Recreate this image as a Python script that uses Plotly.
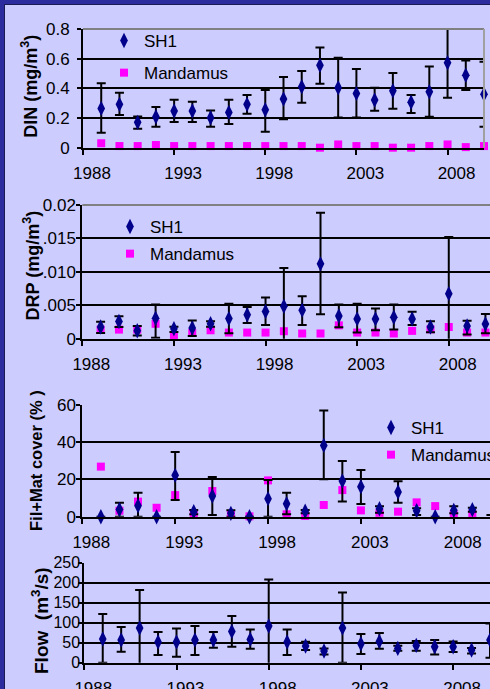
import plotly.graph_objects as go

years = list(range(1989, 2011))
tick_years = [1988, 1993, 1998, 2003, 2008]

din_sh1 = [0.265, 0.292, 0.171, 0.209, 0.247, 0.247, 0.202, 0.238, 0.292, 0.256, 0.328,
           0.411, 0.555, 0.404, 0.366, 0.321, 0.384, 0.306, 0.377, 0.573, 0.488, 0.36]
din_sh1_hi = [0.434, 0.37, 0.21, 0.274, 0.324, 0.31, 0.25, 0.324, 0.355, 0.389, 0.476,
              0.517, 0.676, 0.607, 0.53, 0.404, 0.503, 0.355, 0.548, 0.8, 0.587, 0.58]
din_sh1_lo = [0.10, 0.22, 0.128, 0.142, 0.173, 0.173, 0.142, 0.16, 0.229, 0.108, 0.191,
              0.303, 0.431, 0.204, 0.204, 0.249, 0.263, 0.234, 0.209, 0.337, 0.389, 0.142]
din_man = [0.03, 0.011, 0.011, 0.018, 0.011, 0.011, 0.011, 0.011, 0.011, 0.011, 0.011,
           0.011, 0.0, 0.022, 0.011, 0.011, 0.0, 0.0, 0.011, 0.022, 0.004, 0.011]

drp_sh1 = [0.00175, 0.00257, 0.0012, 0.00306, 0.0015, 0.0016, 0.00223, 0.00301, 0.00359, 0.00408, 0.00485,
           0.00427, 0.0112, 0.0034, 0.00296, 0.00296, 0.0032, 0.00296, 0.00175, 0.00674, 0.0019, 0.0022]
drp_sh1_hi = [0.00252, 0.00335, 0.0019, 0.0051, 0.0018, 0.00272, 0.0026, 0.00524, 0.00476, 0.00617, 0.01057,
              0.00636, 0.01885, 0.0051, 0.00524, 0.0045, 0.0051, 0.00403, 0.0026, 0.01522, 0.0027, 0.0037]
drp_sh1_lo = [0.00087, 0.00175, 0.00049, 0.00015, 0.0010, 0.0004, 0.0018, 0.0008, 0.00233, 0.00204, -0.0006,
              0.00204, 0.00364, 0.0017, 0.00092, 0.00126, 0.00136, 0.00204, 0.00097, -0.0019, 0.00063, 0.0008]
drp_man = [0.00136, 0.00136, 0.00136, 0.00223, 0.00039, 0.00087, 0.00126, 0.00092, 0.00092, 0.00092, 0.00112,
           0.00078, 0.00078, 0.002, 0.00092, 0.00092, 0.00078, 0.00117, 0.0014, 0.00175, 0.00092, 0.00092]
drp_ticks = [0, 0.005, 0.010, 0.015, 0.02]
drp_ticktext = ["0", ".005", ".010", ".015", "0.02"]

fil_sh1 = [0, 3.9, 5.9, 0, 22.2, 2.7, 11.1, 1.8, 0, 9.7, 7.0,
           2.9, 38.3, 19.2, 16.1, 4.3, 13.3, 3.2, 0, 3.4, 3.8, 0.9]
fil_sh1_hi = [0, 7.5, 12.9, 0, 34.7, 3.6, 21.3, 3.4, 0, 19.7, 12.9,
              3.6, 57.0, 29.9, 25.1, 5.6, 19.0, 4.5, 0, 5.6, 4.8, 0.9]
fil_sh1_lo = [0, 0, 0, 0, 9.0, 1.3, 0.9, 0, 0, 0, 1.3,
              1.8, 20.1, 8.1, 6.8, 2.1, 7.5, 0.9, 0, 1.8, 2.7, 0.9]
fil_man = [26.9, 3.2, 8.1, 4.8, 11.6, 1.3, 13.8, 1.3, 0.2, 19.5, 1.3,
           0.4, 6.3, 14.3, 3.4, 2.1, 2.7, 7.7, 5.7, 1.3, 1.3, 4.5]

flow_sh1 = [59.2, 56.7, 86.7, 51.7, 51.7, 56.7, 56.7, 78.3, 58.3, 91.7, 51.7,
            41.7, 29.2, 86.7, 47.5, 53.3, 35.8, 43.3, 40, 40, 31.7, 56.7]
flow_sh1_hi = [121.7, 89.2, 181.7, 76.7, 85.8, 91.7, 76.7, 116.7, 83.3, 208.3, 83.3,
               52.5, 35.8, 175.8, 71.7, 74.2, 42.5, 54.2, 56.7, 53.3, 36.7, 98.3]
flow_sh1_lo = [0, 27.5, -7.5, 19.2, 15, 19.2, 37.5, 40, 35, -23.3, 19.2,
               31.7, 20.8, 0, 21.7, 35, 30, 30, 20.8, 26.7, 23.3, 12.5]

y_titles = ["<b>DIN (mg/m<sup>3</sup>)</b>", "<b>DRP (mg/m<sup>3</sup>)</b>",
            "<b>Fil+Mat cover (% )</b>", "<b>Flow&nbsp; (m<sup>3</sup>/s)</b>"]

W, H = 490, 689
BG = "#ccccff"
FRAME = "#2c2c9e"
NAVY = "#00008b"
PINK = "#ff00ff"
FONT = "Arial, Liberation Sans, sans-serif"


def fx(px):
    return px / W


def fy(px):
    return 1 - px / H


fig = go.Figure()


def add_sh1(idx, vals, hi, lo, legend, show):
    sfx = "" if idx == 1 else str(idx)
    fig.add_trace(go.Scatter(
        x=years, y=vals, mode="markers", name="SH1",
        xaxis="x" + sfx, yaxis="y" + sfx,
        legend=legend, showlegend=show, legendgroup="a%d" % idx, legendrank=1,
        marker=dict(symbol="diamond-tall", size=11, color=NAVY),
        error_y=dict(type="data", symmetric=False,
                     array=[h - v for h, v in zip(hi, vals)],
                     arrayminus=[v - l for v, l in zip(vals, lo)],
                     color="black", thickness=2, width=4.5),
        cliponaxis=False,
    ))


def add_man(idx, vals, legend):
    sfx = "" if idx == 1 else str(idx)
    fig.add_trace(go.Scatter(
        x=years, y=vals, mode="markers", name="Mandamus",
        xaxis="x" + sfx, yaxis="y" + sfx,
        legend=legend, legendgroup="b%d" % idx, legendrank=2,
        marker=dict(symbol="square", size=8, color=PINK),
        cliponaxis=False,
    ))


add_sh1(1, din_sh1, din_sh1_hi, din_sh1_lo, "legend", True)
add_man(1, din_man, "legend")
add_man(2, drp_man, "legend2")
add_sh1(2, drp_sh1, drp_sh1_hi, drp_sh1_lo, "legend2", True)
add_man(3, fil_man, "legend3")
add_sh1(3, fil_sh1, fil_sh1_hi, fil_sh1_lo, "legend3", True)
add_sh1(4, flow_sh1, flow_sh1_hi, flow_sh1_lo, "legend", False)

xcommon = dict(tickvals=tick_years, ticks="outside", ticklen=5, tickwidth=2, tickcolor="black",
               showline=True, linecolor="black", linewidth=2, showgrid=False, zeroline=False,
               tickfont=dict(family=FONT, size=17, color="black"), ticklabelshift=9,
               ticklabelstandoff=4, automargin=False)
ycommon = dict(ticks="outside", ticklen=4, tickwidth=2, tickcolor="black",
               showline=True, linecolor="black", linewidth=2, showgrid=True, gridcolor="black",
               gridwidth=2, zeroline=False, automargin=False)

panels = [
    # (x0, x1, top, bottom, xrange)
    (83, 484, 29, 147.7, [1988, 2010]),
    (82.3, 490, 205, 338.7, [1988, 2010.25]),
    (82.3, 490, 405, 516.7, [1988, 2009.95]),
    (84.3, 490, 562.7, 662.7, [1988, 2010]),
]
ydefs = [
    dict(range=[0, 0.8], tickvals=[0, 0.2, 0.4, 0.6, 0.8], ticktext=["0", "0.2", "0.4", "0.6", "0.8"],
         ticklabelstandoff=4, tickfont=dict(family=FONT, size=17, color="black")),
    dict(range=[0, 0.02], tickvals=drp_ticks, ticktext=drp_ticktext,
         ticklabelstandoff=-3, tickfont=dict(family=FONT, size=17, color="black")),
    dict(range=[0, 60], tickvals=[0, 20, 40, 60],
         ticklabelstandoff=-3, tickfont=dict(family=FONT, size=17, color="black")),
    dict(range=[0, 250], tickvals=[0, 50, 100, 150, 200, 250],
         ticklabelstandoff=-5, tickfont=dict(family=FONT, size=16, color="black")),
]
# y-title placement (centre x px, centre y px, font size)
title_pos = [(30, 86.7, 18), (32.5, 266, 18), (35.5, 460.5, 16.5), (40, 621, 19)]

lay = {}
annotations = []
for i, ((x0, x1, top, bot, xr), yd, (tx, ty, ts), tt) in enumerate(
        zip(panels, ydefs, title_pos, y_titles), start=1):
    sfx = "" if i == 1 else str(i)
    lay["xaxis" + sfx] = dict(xcommon, domain=[fx(x0), fx(x1)], range=xr, anchor="y" + sfx)
    lay["yaxis" + sfx] = dict(ycommon, domain=[fy(bot), fy(top)], anchor="x" + sfx, **yd)
    annotations.append(dict(text=tt, textangle=-90, xref="paper", yref="paper",
                            x=fx(tx), y=fy(ty), xanchor="center", yanchor="middle",
                            showarrow=False, font=dict(family=FONT, size=ts, color="black")))

legfont = dict(family=FONT, size=17, color="black")
legcommon = dict(font=legfont, bgcolor="rgba(0,0,0,0)", xanchor="left", yanchor="top",
                 itemwidth=30, traceorder="grouped")
lay["legend"] = dict(legcommon, x=fx(104), y=fy(23), tracegroupgap=7)
lay["legend2"] = dict(legcommon, x=fx(110), y=fy(209), tracegroupgap=2)
lay["legend3"] = dict(legcommon, x=fx(371), y=fy(410), tracegroupgap=2)

shapes = [
    # lavender panel inside the dark-blue frame (frame = paper colour showing at top/left)
    dict(type="rect", xref="paper", yref="paper", x0=fx(5), x1=1.01, y0=-0.01, y1=fy(5),
         fillcolor=BG, line=dict(width=0), layer="below"),
    dict(type="line", xref="paper", yref="paper", x0=fx(4.5), x1=1.01, y0=fy(4.5), y1=fy(4.5),
         line=dict(color="#1a1a55", width=1), layer="below"),
    dict(type="line", xref="paper", yref="paper", x0=fx(4.5), x1=fx(4.5), y0=-0.01, y1=fy(4.5),
         line=dict(color="#1a1a55", width=1), layer="below"),
    # gray plot-area borders
    dict(type="line", xref="x domain", yref="y domain", x0=0, x1=1, y0=1, y1=1,
         line=dict(color="#808080", width=2), layer="above"),
    dict(type="line", xref="x domain", yref="y domain", x0=1, x1=1, y0=0, y1=1,
         line=dict(color="#a0a0a0", width=2), layer="above"),
    dict(type="line", xref="x2 domain", yref="y2 domain", x0=0, x1=1, y0=1, y1=1,
         line=dict(color="#808080", width=2), layer="above"),
]

fig.update_layout(
    width=W, height=H, margin=dict(l=0, r=0, t=0, b=0, pad=0, autoexpand=False),
    paper_bgcolor=FRAME, plot_bgcolor=BG,
    font=dict(family=FONT, size=17, color="black"),
    shapes=shapes, annotations=annotations, **lay,
)

fig.write_html("out.html", config={"displayModeBar": False},
               post_script="document.body.style.margin='0';document.body.style.padding='0';"
                           "document.body.style.overflow='hidden';")
